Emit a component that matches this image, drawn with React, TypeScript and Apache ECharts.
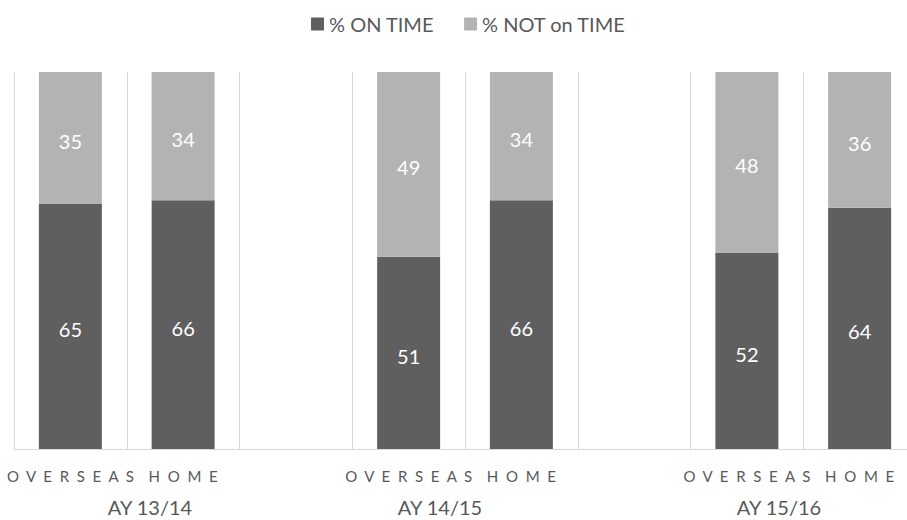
import React, { useEffect, useRef } from "react";
import * as echarts from "echarts";

const categories = [
  "O  V  E  R  S  E  A  S",
  "H  O  M  E",
  "",
  "O  V  E  R  S  E  A  S",
  "H  O  M  E",
  "",
  "O  V  E  R  S  E  A  S",
  "H  O  M  E",
];
const onTime = [65, 66, null, 51, 66, null, 52, 64];
const notOnTime = [35, 34, null, 49, 34, null, 48, 36];
const groupLabels = ["AY 13/14", "AY 14/15", "AY 15/16"];
const groupLabelX = [150, 440, 779];
const seriesNames = ["% ON TIME", "% NOT on TIME"];

const FONT = "Lato, 'Open Sans', sans-serif";
const TEXT = "#595959";

export default function App() {
  const ref = useRef<HTMLDivElement>(null);
  useEffect(() => {
    document.body.style.margin = "0";
    const chart = echarts.init(ref.current!, undefined, { renderer: "svg" });
    const label = {
      show: true,
      position: "inside",
      color: "#fff",
      fontSize: 20,
      fontFamily: FONT,
      offset: [0, 3],
    };
    chart.setOption({
      animation: false,
      textStyle: { fontFamily: FONT },
      legend: {
        top: 9,
        left: 306,
        itemWidth: 13,
        itemHeight: 13,
        itemGap: 30,
        icon: "rect",
        textStyle: { fontSize: 20, color: TEXT, fontFamily: FONT },
        data: seriesNames,
      },
      grid: { left: 14, right: 14, top: 72, bottom: 71, containLabel: false },
      xAxis: {
        type: "category",
        data: categories,
        axisLine: { lineStyle: { color: "#d9d9d9", width: 1 } },
        axisTick: { show: false },
        splitLine: { show: true, interval: 0, lineStyle: { color: "#d9d9d9", width: 1 } },
        axisLabel: { interval: 0, fontSize: 15, color: TEXT, margin: 19, fontFamily: FONT },
      },
      yAxis: { type: "value", min: 0, max: 100, show: false, splitLine: { show: false } },
      graphic: groupLabels.map((t, i) => ({
        type: "text",
        x: groupLabelX[i],
        y: 507,
        style: {
          text: t,
          fontSize: 20,
          fill: TEXT,
          fontFamily: FONT,
          textAlign: "center",
          textVerticalAlign: "middle",
        },
      })),
      series: [
        {
          name: seriesNames[0],
          type: "bar",
          stack: "s",
          data: onTime,
          barWidth: 63,
          itemStyle: { color: "#5f5f5f" },
          label,
        },
        {
          name: seriesNames[1],
          type: "bar",
          stack: "s",
          data: notOnTime,
          barWidth: 63,
          itemStyle: { color: "#b3b3b3" },
          label,
        },
      ],
    });
    return () => chart.dispose();
  }, []);
  return (
    <div style={{ position: "fixed", left: 0, top: 0, width: 907, height: 520, overflow: "hidden", background: "#fff" }}>
      <div ref={ref} style={{ width: 930, height: 520 }} />
    </div>
  );
}
